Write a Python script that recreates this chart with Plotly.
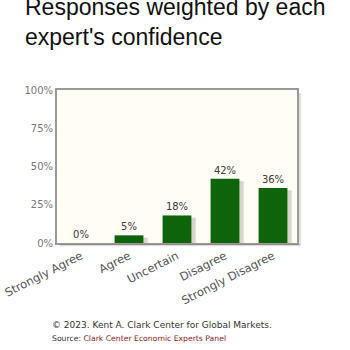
import plotly.graph_objects as go

# Survey responses, weighted by each expert's confidence (percent)
categories = ["Strongly Agree", "Agree", "Uncertain", "Disagree", "Strongly Disagree"]
values = [0, 5, 18, 42, 36]
value_labels = ["0%", "5%", "18%", "42%", "36%"]
y_ticks = [0, 25, 50, 75, 100]
y_tick_labels = ["0%", "25%", "50%", "75%", "100%"]

bar_width = 0.6
shadow_shift = 0.09

fig = go.Figure()

# soft drop shadow behind each bar
fig.add_trace(go.Bar(
    x=categories,
    y=[max(v - 1.5, 0) for v in values],
    width=bar_width,
    offset=-bar_width / 2 + shadow_shift,
    marker=dict(color="rgba(0,0,0,0.16)", line=dict(width=0)),
    hoverinfo="skip",
    showlegend=False,
))

fig.add_trace(go.Bar(
    x=categories,
    y=values,
    width=bar_width,
    offset=-bar_width / 2,
    marker=dict(color="#0e640b", line=dict(width=0)),
    text=value_labels,
    textposition="outside",
    cliponaxis=False,
    textfont=dict(family="DejaVu Sans", size=10, color="#3a3a3a"),
    showlegend=False,
))

fig.update_layout(
    width=350,
    height=350,
    margin=dict(l=57, r=53, t=90, b=107, autoexpand=False),
    paper_bgcolor="white",
    plot_bgcolor="#fffdf5",
    barmode="overlay",
    font=dict(family="DejaVu Sans", size=10, color="#666666"),
    xaxis=dict(
        tickangle=-27, automargin=False,
        showline=True, mirror=True, linecolor="#9a9a9a", linewidth=2,
        ticks="", showgrid=False,
        tickfont=dict(family="DejaVu Sans", size=11.5, color="#555555"),
    ),
    yaxis=dict(
        range=[0, 100], automargin=False,
        tickvals=y_ticks, ticktext=y_tick_labels,
        showline=True, mirror=True, linecolor="#9a9a9a", linewidth=2,
        ticks="", showgrid=False, zeroline=False,
        tickfont=dict(family="DejaVu Sans", size=10, color="#777777"),
    ),
    shapes=[
        # faint shadow along the right and bottom edges of the frame
        dict(type="line", xref="paper", yref="paper", layer="above",
             x0=1.013, x1=1.013, y0=-0.015, y1=0.98,
             line=dict(color="rgba(0,0,0,0.13)", width=2)),
        dict(type="line", xref="paper", yref="paper", layer="above",
             x0=0.01, x1=1.013, y0=-0.015, y1=-0.015,
             line=dict(color="rgba(0,0,0,0.13)", width=2)),
    ],
    annotations=[
        dict(text="Responses weighted by each<br>expert's confidence",
             xref="paper", yref="paper", x=-0.14, y=1.445,
             xanchor="left", yanchor="middle", align="left", showarrow=False,
             font=dict(family="Liberation Sans", size=23, color="#111111")),
        dict(text="© 2023. Kent A. Clark Center for Global Markets.",
             xref="paper", yref="paper", x=-0.03, y=-0.535,
             xanchor="left", yanchor="middle", showarrow=False,
             font=dict(family="DejaVu Sans", size=9, color="#333333")),
        dict(text="Source: <span style='color:#8b1a1a'>Clark Center Economic Experts Panel</span>",
             xref="paper", yref="paper", x=-0.03, y=-0.627,
             xanchor="left", yanchor="middle", showarrow=False,
             font=dict(family="DejaVu Sans", size=7.7, color="#333333")),
    ],
)

fig.write_html("out.html")
